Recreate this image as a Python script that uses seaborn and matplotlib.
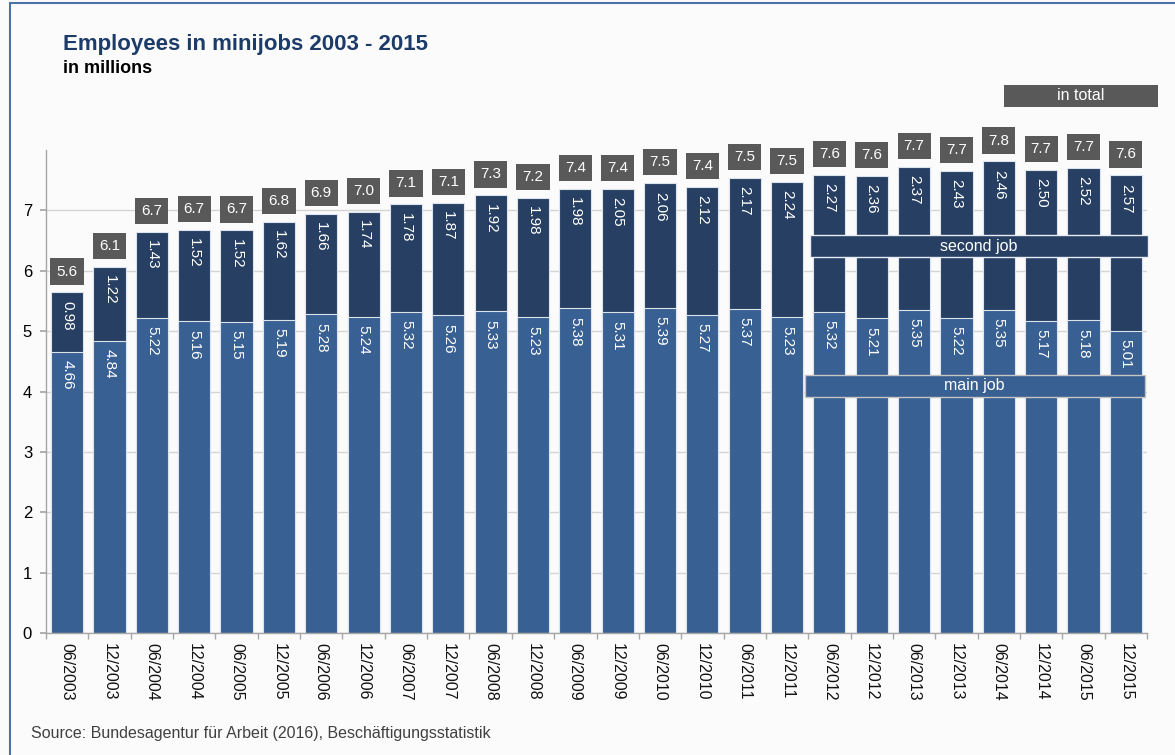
import matplotlib
matplotlib.use("Agg")
import matplotlib.pyplot as plt
from matplotlib.patches import Rectangle
from matplotlib.lines import Line2D
import numpy as np
import pandas as pd
import seaborn as sns

periods = ['06/2003', '12/2003', '06/2004', '12/2004', '06/2005', '12/2005',
           '06/2006', '12/2006', '06/2007', '12/2007', '06/2008', '12/2008',
           '06/2009', '12/2009', '06/2010', '12/2010', '06/2011', '12/2011',
           '06/2012', '12/2012', '06/2013', '12/2013', '06/2014', '12/2014',
           '06/2015', '12/2015']
main_job = [4.66, 4.84, 5.22, 5.16, 5.15, 5.19, 5.28, 5.24, 5.32, 5.26, 5.33, 5.23,
            5.38, 5.31, 5.39, 5.27, 5.37, 5.23, 5.32, 5.21, 5.35, 5.22, 5.35, 5.17,
            5.18, 5.01]
second_job = [0.98, 1.22, 1.43, 1.52, 1.52, 1.62, 1.66, 1.74, 1.78, 1.87, 1.92, 1.98,
              1.98, 2.05, 2.06, 2.12, 2.17, 2.24, 2.27, 2.36, 2.37, 2.43, 2.46, 2.50,
              2.52, 2.57]
total_labels = [5.6, 6.1, 6.7, 6.7, 6.7, 6.8, 6.9, 7.0, 7.1, 7.1, 7.3, 7.2,
                7.4, 7.4, 7.5, 7.4, 7.5, 7.5, 7.6, 7.6, 7.7, 7.7, 7.8, 7.7,
                7.7, 7.6]

df = pd.DataFrame({'period': periods, 'main': main_job, 'second': second_job})
df['total'] = df['main'] + df['second']

c_main = '#386092'
c_second = '#263f63'
c_box = '#595959'
bg = '#fbfbfb'

sns.set_theme(style='white')
plt.rcParams['font.family'] = ['Liberation Sans', 'DejaVu Sans']

fig = plt.figure(figsize=(11.75, 7.55), dpi=100, facecolor=bg)
ax = fig.add_axes([46 / 1175, 1 - 633 / 755, 1101 / 1175, 483 / 755])
ax.set_facecolor(bg)

# stacked bars: total (second job colour) behind, main job in front
sns.barplot(data=df, x='period', y='total', color=c_second, saturation=1,
            width=0.76, errorbar=None, edgecolor='#dde3ec', linewidth=0.8, ax=ax)
sns.barplot(data=df, x='period', y='main', color=c_main, saturation=1,
            width=0.76, errorbar=None, edgecolor='#dde3ec', linewidth=0.8, ax=ax)

ax.set_xlim(-0.5, len(periods) - 0.5)
ax.set_ylim(0, 8)
ax.set_yticks(range(8))
ax.set_xlabel('')
ax.set_ylabel('')
ax.yaxis.grid(True, color='#d4d4d4', lw=1)
ax.set_axisbelow(True)
for s in ['top', 'right']:
    ax.spines[s].set_visible(False)
for s in ['left', 'bottom']:
    ax.spines[s].set_color('#a6a6a6')
    ax.spines[s].set_linewidth(1)

ax.tick_params(axis='y', left=True, length=4, color='#a6a6a6', labelsize=12,
               pad=6, labelcolor='black')
ax.tick_params(axis='x', which='major', length=0, labelsize=11.5, pad=7,
               labelcolor='#111111')
ax.set_xticks(np.arange(-0.5, len(periods), 1), minor=True)
ax.tick_params(axis='x', which='minor', bottom=True, length=4, color='#a6a6a6')
plt.setp(ax.get_xticklabels(), rotation=270, ha='center', va='top')

# value labels
for i, row in df.iterrows():
    ax.annotate(f"{row['main']:.2f}", (i, row['main']), xytext=(0, -6),
                textcoords='offset points', rotation=270, ha='center', va='top',
                color='white', fontsize=11)
    ax.annotate(f"{row['second']:.2f}", (i, row['total']), xytext=(0, -6),
                textcoords='offset points', rotation=270, ha='center', va='top',
                color='white', fontsize=11)
    ax.annotate(f"{total_labels[i]:.1f}", (i, row['total']), xytext=(0, 10),
                textcoords='offset points', ha='center', va='bottom',
                color='white', fontsize=11,
                bbox=dict(boxstyle='square,pad=0.4', fc=c_box, ec='none'))

# legend boxes
def label_box(x0, x1, y0, y1, text, fc, ec):
    ax.add_patch(Rectangle((x0, y0), x1 - x0, y1 - y0, transform=ax.transAxes,
                           fc=fc, ec=ec, lw=1, clip_on=False, zorder=5))
    ax.text((x0 + x1) / 2, (y0 + y1) / 2, text, transform=ax.transAxes,
            ha='center', va='center', color='white', fontsize=11.5, zorder=6)

label_box(0.694, 1.001, 0.778, 0.824, 'second job', c_second, '#e8ecf2')
label_box(0.689, 0.998, 0.489, 0.534, 'main job', c_main, '#c4c4c4')
label_box(0.870, 1.010, 1.089, 1.135, 'in total', c_box, 'none')

# titles and source
fig.text(63 / 1175, 1 - 50 / 755, 'Employees in minijobs 2003 - 2015',
         fontsize=16, fontweight='bold', color='#1c3b68', va='baseline')
fig.text(63 / 1175, 1 - 73 / 755, 'in millions', fontsize=13,
         fontweight='bold', color='black', va='baseline')
fig.text(31 / 1175, 1 - 738 / 755,
         'Source: Bundesagentur für Arbeit (2016), Beschäftigungsstatistik',
         fontsize=11.5, color='#404040', va='baseline')

# frame
fx = 9.5 / 1175
fy = 1 - 3 / 755
fig.add_artist(Line2D([fx, fx], [0, fy], color='#4a74a8', lw=1.5))
fig.add_artist(Line2D([fx, 1], [fy, fy], color='#4a74a8', lw=1.5))

fig.savefig('out.png', dpi=100, facecolor=bg)
